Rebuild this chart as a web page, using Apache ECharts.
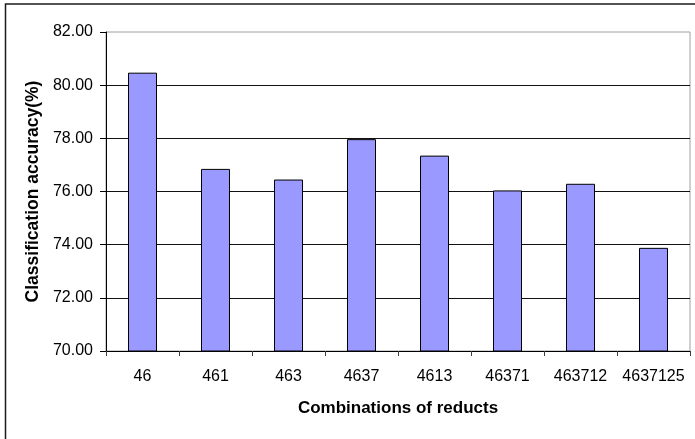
<!DOCTYPE html>
<html>
<head>
<meta charset="utf-8">
<script src="https://cdn.jsdelivr.net/npm/echarts@6/dist/echarts.min.js"></script>
<style>
  html, body { margin: 0; padding: 0; background: #fff; }
  #chart { width: 695px; height: 439px; }
</style>
</head>
<body>
<div id="chart"></div>
<script>
// Reduct combinations and their classification accuracy (%)
const categories = ['46', '461', '463', '4637', '4613', '46371', '463712', '4637125'];
const accuracy = [80.47, 76.85, 76.45, 77.97, 77.35, 76.04, 76.29, 73.88];
const yTicks = { min: 70, max: 82, interval: 2 };
const xTitle = 'Combinations of reducts';
const yTitle = 'Classification accuracy(%)';

const FONT = "'Liberation Sans', Arial, sans-serif";

const chart = echarts.init(document.getElementById('chart'), null, { renderer: 'canvas' });

chart.setOption({
  backgroundColor: '#ffffff',
  animation: false,
  graphic: [{
    type: 'rect',
    shape: { x: 5.5, y: 4, width: 720, height: 460 },
    style: { fill: null, stroke: '#1a1a1a', lineWidth: 1.5 },
    silent: true
  }],
  grid: {
    left: 106, right: 5, top: 32, bottom: 88,
    show: true, borderColor: '#a0a0a0', borderWidth: 1, backgroundColor: 'transparent'
  },
  xAxis: {
    type: 'category',
    data: categories,
    boundaryGap: true,
    name: xTitle,
    nameLocation: 'middle',
    nameGap: 49,
    nameTextStyle: { fontFamily: FONT, fontSize: 17, fontWeight: 'bold', color: '#000' },
    axisLine: { show: true, lineStyle: { color: '#000', width: 1 } },
    axisTick: { show: true, alignWithLabel: false, length: 5, lineStyle: { color: '#404040' } },
    axisLabel: { fontFamily: FONT, fontSize: 16, color: '#000', margin: 18, interval: 0 },
    splitLine: { show: false }
  },
  yAxis: {
    type: 'value',
    min: yTicks.min, max: yTicks.max, interval: yTicks.interval,
    name: yTitle,
    nameLocation: 'middle',
    nameGap: 63,
    nameTextStyle: { fontFamily: FONT, fontSize: 17.5, fontWeight: 'bold', color: '#000' },
    axisLine: { show: true, lineStyle: { color: '#000', width: 1 } },
    axisTick: { show: true, inside: false, length: 6, lineStyle: { color: '#000' } },
    axisLabel: {
      fontFamily: FONT, fontSize: 16, color: '#000', margin: 13,
      formatter: v => v.toFixed(2)
    },
    splitLine: { show: true, showMaxLine: false, lineStyle: { color: '#111', width: 1 } }
  },
  series: [{
    type: 'bar',
    data: accuracy,
    barWidth: 29,
    itemStyle: { color: '#9999ff', borderColor: '#000', borderWidth: 1 },
    emphasis: { disabled: true }
  }]
});
</script>
</body>
</html>
